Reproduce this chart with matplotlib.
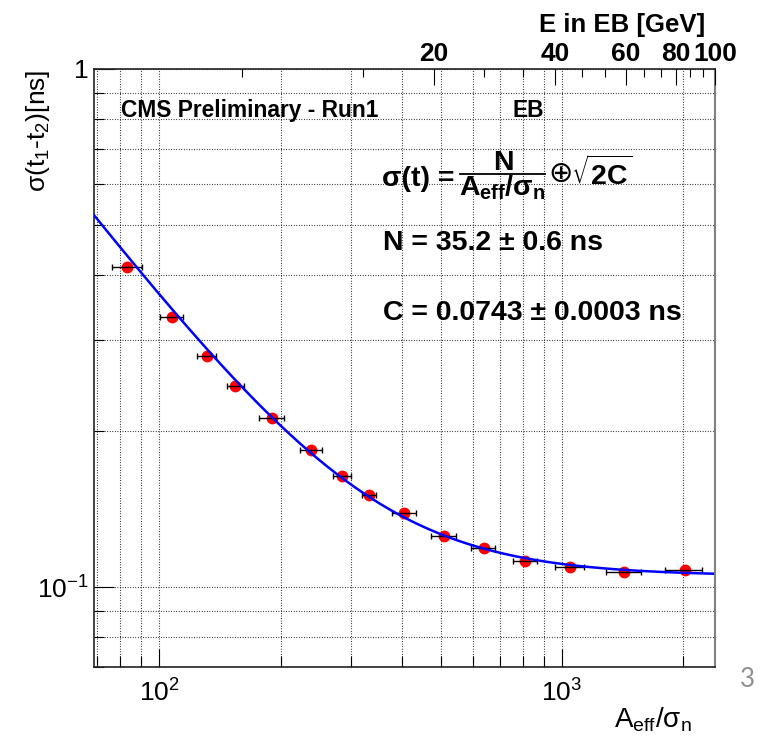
import numpy as np
import matplotlib
matplotlib.use('Agg')
import matplotlib.pyplot as plt
from matplotlib.ticker import NullFormatter, FixedLocator

plt.rcParams['font.family'] = ['Liberation Sans', 'DejaVu Sans']
plt.rcParams['mathtext.default'] = 'regular'

# timing resolution vs normalised amplitude (EB, Run1)
amp = [83.3, 107.5, 131, 154.5, 190.5, 238, 285, 332, 406, 510, 639, 811, 1047, 1428, 2017]
amp_err = [7, 7, 7, 7.5, 14, 15, 15, 14, 28, 36, 43, 57, 85, 140, 215]
sigma = [0.414, 0.3322, 0.2794, 0.2444, 0.2121, 0.1837, 0.1638, 0.1505, 0.1392,
         0.1257, 0.1188, 0.1122, 0.1093, 0.1069, 0.1077]

# fit parameters
fit_N = 35.2
fit_N_err = 0.6
fit_C = 0.0743
fit_C_err = 0.0003

# top axis: energy in EB
gev_per_amp = 1.0 / 24
e_major = [20, 40, 60, 80, 100]
e_minor = [20 / 3 * k for k in range(1, 15) if k % 3 != 0]

ytick_vals = [0.1, 1]
ytick_labels = ['10$^{-1}$', '1']
xtick_vals = [100, 1000]
xtick_labels = ['10$^{2}$', '10$^{3}$']

W, H = 765, 743


def ftext(px, py, s, **kw):
    return fig.text(px / W, 1 - py / H, s, **kw)


fig = plt.figure(figsize=(W / 100, H / 100), dpi=100)
ax = fig.add_axes([94 / W, 1 - 667.3 / H, 621 / W, 598.3 / H])
ax.set_xscale('log')
ax.set_yscale('log')
xlim = (68.8, 2400)
ax.set_xlim(*xlim)
ax.set_ylim(0.07, 1)

ax.grid(True, which='both', color='black', linestyle=(0, (0.7, 1.6)), linewidth=0.8)
ax.set_axisbelow(True)

# data and fit
ax.errorbar(amp, sigma, xerr=amp_err, fmt='none', ecolor='black',
            elinewidth=1.0, capsize=2.5, capthick=1.0, zorder=3)
ax.plot(amp, sigma, 'o', color='red', markersize=8.5, markeredgewidth=0, zorder=2)
a_fit = np.geomspace(xlim[0], 2370, 400)
s_fit = np.sqrt((fit_N / a_fit) ** 2 + 2 * fit_C ** 2)
ax.plot(a_fit, s_fit, color='blue', linewidth=1.8, zorder=4)

# bottom / left axes
ax.set_xticks(xtick_vals)
ax.set_xticklabels(xtick_labels)
ax.set_yticks(ytick_vals)
ax.set_yticklabels(ytick_labels)
ax.xaxis.set_minor_formatter(NullFormatter())
ax.yaxis.set_minor_formatter(NullFormatter())
ax.tick_params(axis='x', which='major', direction='in', length=13, width=0.8,
               labelsize=19, pad=9, top=False)
ax.tick_params(axis='x', which='minor', direction='in', length=7.7, width=0.8, top=False)
ax.tick_params(axis='y', which='major', direction='in', length=14.4, width=0.8,
               labelsize=19, pad=4, right=False)
ax.tick_params(axis='y', which='minor', direction='in', length=7.2, width=0.8, right=False)
for side in ['left', 'bottom', 'top']:
    ax.spines[side].set_color('#222222')
    ax.spines[side].set_linewidth(1.2)
ax.spines['right'].set_color('#808080')
ax.spines['right'].set_linewidth(1.5)

# top axis in GeV
ax2 = ax.twiny()
ax2.set_xscale('log')
ax2.set_xlim(xlim[0] * gev_per_amp, xlim[1] * gev_per_amp)
ax2.xaxis.set_major_locator(FixedLocator(e_major))
ax2.xaxis.set_minor_locator(FixedLocator(e_minor))
ax2.set_xticklabels([str(v) for v in e_major], fontweight='bold')
ax2.xaxis.set_minor_formatter(NullFormatter())
ax2.tick_params(axis='x', which='major', direction='in', length=11.5, width=0.8,
                labelsize=19, pad=2, top=True, bottom=False)
ax2.tick_params(axis='x', which='minor', direction='in', length=5.8, width=0.8,
                top=True, bottom=False)
for side in ax2.spines:
    ax2.spines[side].set_visible(False)

# axis titles
ftext(705, 32, 'E in EB [GeV]', fontsize=18.5, fontweight='bold', ha='right', va='baseline')
ftext(692, 728, 'A$_{eff}$/σ$_{n}$', fontsize=20, ha='right', va='baseline')
ftext(38, 70, 'σ(t$_{1}$-t$_{2}$)[ns]', fontsize=19, rotation=90, ha='center', va='top')

# labels inside the frame
ftext(121, 117, 'CMS Preliminary - Run1', fontsize=16.4, fontweight='bold', va='baseline')
ftext(512, 117, 'EB', fontsize=16.4, fontweight='bold', va='baseline')

# resolution formula
ftext(382, 186, 'σ(t) =', fontsize=20.5, fontweight='bold', va='baseline')
ftext(503, 169.5, 'N', fontsize=20.5, fontweight='bold', ha='center', va='baseline')
fig.add_artist(plt.Line2D([460 / W, 545 / W], [1 - 174.3 / H, 1 - 174.3 / H],
                          color='black', linewidth=1.3))
ftext(502, 196, 'A$_{eff}$/σ$_{n}$', fontsize=20.5, fontweight='bold', ha='center', va='baseline')
ftext(561, 173.5, '⊕', fontsize=21, ha='center', va='center', family=['DejaVu Sans'])
ftext(571, 185, r'$\sqrt{2C}$', fontsize=20.5, fontweight='bold', va='baseline')

ftext(383, 250, 'N = %.1f ± %.1f ns' % (fit_N, fit_N_err), fontsize=20.5,
      fontweight='bold', va='baseline')
ftext(383, 320, 'C = %.4f ± %.4f ns' % (fit_C, fit_C_err), fontsize=20.5,
      fontweight='bold', va='baseline')

ftext(747, 687, '3', fontsize=18.5, color='#8f8f8f', ha='center', va='baseline', family=['Lato'])

fig.savefig('out.png', dpi=100)
